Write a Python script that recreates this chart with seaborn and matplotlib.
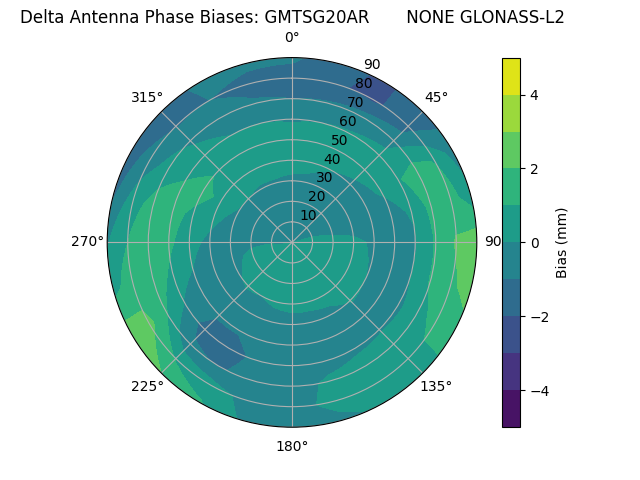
import numpy as np
import matplotlib
matplotlib.use("Agg")
import matplotlib.pyplot as plt
import seaborn as sns

# Grilla: azimut (grados, horario desde N) y cenit (grados)
AZIMUTH_DEG = [0, 15, 30, 45, 60, 75, 90, 105, 120, 135, 150, 165,
               180, 195, 210, 225, 240, 255, 270, 285, 300, 315, 330, 345]
ZENITH_DEG = [0, 10, 20, 30, 40, 50, 60, 70, 80, 90]

# Sesgo (mm), una fila por azimut, valores de cenit 0..90
BIAS_MM = [
    [0.0, -0.5, -0.5, -0.2, 0.4, 0.5, -0.1, -1.0, -1.5, -0.8],    # 0
    [0.0, -0.5, -0.5, -0.3, 0.3, 0.5, 0.0, -0.9, -1.9, -1.6],     # 15
    [0.0, -0.5, -0.5, -0.4, 0.0, 0.5, 0.1, -0.6, -2.2, -2.2],     # 30
    [0.0, -0.4, -0.5, -0.5, -0.2, 0.4, 0.4, -0.5, -1.4, -1.5],    # 45
    [0.0, -0.2, -0.5, -0.6, -0.3, 0.1, 0.9, 1.5, 0.9, -0.5],      # 60
    [0.0, 0.0, -0.3, -0.5, -0.5, -0.3, 0.1, 1.3, 1.5, 0.3],       # 75
    [0.0, 0.5, 0.6, 0.3, -0.2, -0.6, -0.1, 1.1, 2.1, 2.7],        # 90
    [0.0, 0.5, 0.6, 0.5, -0.1, -0.5, 0.0, 1.1, 1.8, 2.4],         # 105
    [0.0, 0.6, 0.6, 0.5, 0.0, -0.5, -0.2, 0.6, 1.3, 1.5],         # 120
    [0.0, 0.6, 0.6, 0.4, 0.05, -0.4, -0.1, 0.5, 0.6, 0.5],        # 135
    [0.0, 0.6, 0.6, 0.4, -0.3, -0.5, -0.2, 0.4, 0.5, 0.2],        # 150
    [0.0, 0.6, 0.6, 0.3, -0.4, -0.6, -0.5, 0.2, 0.3, -0.3],       # 165
    [0.0, 0.6, 0.6, 0.3, -0.4, -0.6, -0.6, -0.5, -0.4, -0.3],     # 180
    [0.0, 0.6, 0.6, 0.2, -0.5, -0.6, -0.7, -0.6, -0.3, -0.2],     # 195
    [0.0, 0.5, 0.5, 0.0, -0.5, -0.9, -1.4, -1.1, 0.4, 1.1],       # 210
    [0.0, 0.5, 0.5, 0.1, -0.6, -0.9, -1.4, -0.8, 0.9, 2.0],       # 225
    [0.0, 0.4, 0.4, -0.1, -0.5, -0.6, -0.1, 1.0, 2.3, 2.6],       # 240
    [0.0, 0.3, 0.3, -0.4, -0.4, 0.0, 0.8, 1.5, 1.5, 0.7],         # 255
    [0.0, -0.1, -0.4, -0.6, -0.3, 0.4, 1.2, 1.6, 1.0, -0.1],      # 270
    [0.0, -0.3, -0.5, -0.5, 0.2, 0.7, 1.4, 1.4, 0.5, -1.2],       # 285
    [0.0, -0.4, -0.5, -0.1, 0.7, 1.4, 1.0, 0.5, -0.6, -1.5],      # 300
    [0.0, -0.5, -0.5, 0.0, 0.5, 0.8, 0.5, -0.2, -1.1, -1.5],      # 315
    [0.0, -0.5, -0.5, -0.1, 0.4, 0.6, 0.0, -0.6, -1.0, -0.8],     # 330
    [0.0, -0.5, -0.5, -0.1, 0.4, 0.5, 0.0, -0.9, -1.3, -0.8],     # 345
]

LEVELS = list(range(-5, 6))
RADIAL_TICKS = [10, 20, 30, 40, 50, 60, 70, 80, 90]
TITLE = "Delta Antenna Phase Biases: GMTSG20AR       NONE GLONASS-L2"

# Cerrar el anillo repitiendo el azimut 0 en 360
az = np.array(AZIMUTH_DEG + [360])
bias = np.array(BIAS_MM + [BIAS_MM[0]]).T
theta, zen = np.meshgrid(np.radians(az), np.array(ZENITH_DEG))

cmap = sns.color_palette("viridis", as_cmap=True)

fig = plt.figure(figsize=(6.4, 4.8), dpi=100)
ax = fig.add_subplot(111, projection="polar")
ax.set_theta_zero_location("N")
ax.set_theta_direction(-1)

cf = ax.contourf(theta, zen, bias, levels=LEVELS, cmap=cmap)
# Curvar los tramos en coordenadas polares
for p in cf.get_paths():
    p._interpolation_steps = 12

ax.set_ylim(0, 90)
ax.set_rticks(RADIAL_TICKS)
ax.grid(True)
ax.set_title(TITLE)

cbar = fig.colorbar(cf, ax=ax)
cbar.set_label("Bias (mm)")

plt.savefig("out.png", dpi=100)
